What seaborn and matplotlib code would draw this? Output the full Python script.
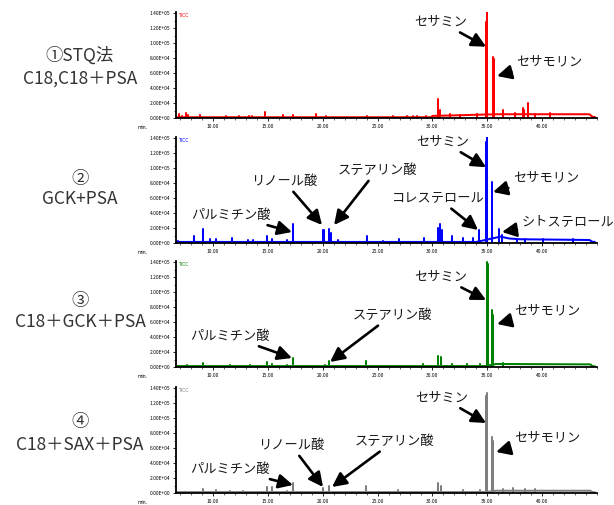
import numpy as np
import pandas as pd
import matplotlib
matplotlib.use("Agg")
import matplotlib.pyplot as plt
from matplotlib.ticker import MultipleLocator, FuncFormatter
import seaborn as sns

sns.set_style("white")
plt.rcParams["font.family"] = ["Noto Sans CJK JP", "DejaVu Sans"]

# ---- chromatogram data (retention time in min, TIC intensity) ----
# 1: STQ method, C18 / C18+PSA
red_base_t = [6.6, 29.9, 30.0, 32.0, 34.5, 36.0, 44.3, 44.6, 44.8]
red_base_v = [1.0e3, 1.0e3, 2.8e3, 3.5e3, 4.5e3, 5.0e3, 5.0e3, 1.5e3, 1.5e3]
red_peak_t = [6.86, 7.16, 7.52, 7.74, 8.83, 11.17, 12.39, 13.30, 13.60, 14.76,
              16.40, 17.25, 19.38, 20.30, 24.0, 26.4, 27.7, 28.2, 28.6, 29.4,
              30.54, 30.69, 31.60, 32.5, 34.03, 34.84, 34.95, 35.49, 35.60,
              36.46, 37.52, 38.22, 38.32, 38.68, 39.35, 40.72]
red_peak_v = [5.3e3, 3.0e3, 6.7e3, 3.5e3, 3.5e3, 2.5e3, 2.5e3, 2.5e3, 3.0e3, 8.4e3,
              3.5e3, 3.5e3, 5.3e3, 2.5e3, 3.0e3, 2.5e3, 2.5e3, 3.0e3, 3.0e3, 2.5e3,
              2.6e4, 1.07e4, 5.0e3, 4.5e3, 5.0e3, 1.28e5, 1.41e5, 8.2e4, 7.9e4,
              1.07e4, 6.2e3, 1.3e4, 1.07e4, 2.04e4, 6.0e3, 7.0e3]

# 2: GCK+PSA
blue_base_t = [6.6, 34.0, 36.2, 37.0, 38.0, 44.3, 44.6, 44.8]
blue_base_v = [1.4e3, 1.4e3, 8.5e3, 6.0e3, 5.0e3, 4.0e3, 1.5e3, 1.5e3]
blue_peak_t = [6.84, 8.30, 9.06, 9.72, 10.27, 11.70, 13.22, 13.62, 14.89, 15.35,
               16.72, 17.26, 20.00, 20.15, 20.54, 20.72, 21.42, 24.00, 25.52,
               26.92, 29.23, 30.54, 30.69, 30.84, 31.75, 32.81, 33.67, 34.27,
               34.88, 35.00, 35.46, 36.10, 36.31, 37.7, 38.4, 40.1, 42.8]
blue_peak_v = [2.3e3, 9.0e3, 1.9e4, 5.0e3, 5.4e3, 6.8e3, 4.0e3, 4.0e3, 9.0e3, 5.0e3,
               4.0e3, 2.5e4, 1.8e4, 1.7e4, 1.9e4, 1.4e4, 3.5e3, 1.0e4, 3.0e3,
               5.4e3, 6.8e3, 2.0e4, 2.5e4, 1.8e4, 9.0e3, 6.8e3, 6.8e3, 1.7e4,
               1.35e5, 1.41e5, 8.2e4, 1.9e4, 1.1e4, 6.0e3, 5.5e3, 5.0e3, 5.0e3]

# 3: C18+GCK+PSA
green_base_t = [6.6, 34.8, 35.8, 44.4, 44.6, 44.8]
green_base_v = [1.2e3, 1.2e3, 4.0e3, 3.5e3, 1.0e3, 1.0e3]
green_peak_t = [6.84, 7.60, 9.06, 11.55, 13.37, 14.89, 15.35, 16.72, 17.26, 20.21,
                20.54, 23.95, 29.17, 30.54, 30.75, 31.75, 33.12, 34.33, 34.94,
                35.03, 35.40, 35.55, 36.46]
green_peak_v = [2.0e3, 2.5e3, 5.5e3, 3.0e3, 3.0e3, 6.8e3, 4.0e3, 3.0e3, 1.23e4, 3.0e3,
                7.8e3, 7.8e3, 4.0e3, 1.46e4, 1.37e4, 4.5e3, 4.5e3, 4.5e3, 1.40e5,
                1.37e5, 7.6e4, 7.0e4, 6.0e3]

# 4: C18+SAX+PSA
gray_base_t = [6.6, 34.8, 35.8, 44.4, 44.6, 44.8]
gray_base_v = [1.2e3, 1.2e3, 3.0e3, 3.0e3, 1.0e3, 1.0e3]
gray_peak_t = [7.45, 9.06, 10.27, 11.55, 12.77, 14.89, 15.35, 16.72, 17.32, 20.00,
               20.54, 23.95, 26.90, 30.54, 30.75, 32.81, 34.33, 34.88, 34.94,
               35.46, 35.55, 36.46, 37.37, 38.43, 39.35]
gray_peak_v = [2.0e3, 5.7e3, 3.5e3, 3.0e3, 3.0e3, 7.9e3, 7.9e3, 3.0e3, 1.3e4, 6.6e3,
               8.8e3, 8.8e3, 3.5e3, 1.3e4, 8.8e3, 3.5e3, 3.5e3, 1.30e5, 1.33e5,
               7.5e4, 7.0e4, 5.0e3, 6.5e3, 5.0e3, 5.0e3]

panel_titles = ["①STQ法\nC18,C18＋PSA", "②\nGCK+PSA", "③\nC18＋GCK＋PSA", "④\nC18＋SAX＋PSA"]
panel_colors = ["#ff0000", "#0000ff", "#008000", "#7f7f7f"]

x_ticks = [10, 15, 20, 25, 30, 35, 40]
y_ticks = [0, 2e4, 4e4, 6e4, 8e4, 1.0e5, 1.2e5, 1.4e5]

# compound labels: (text, arrow tip time, arrow tip intensity, text time, text intensity)
notes = [
    [("セサミン", 34.89, 9.5e4, 30.78, 1.28e5),
     ("セサモリン", 35.89, 5.6e4, 40.63, 7.47e4)],
    [("パルミチン酸", 17.20, 1.47e4, 11.64, 3.73e4),
     ("リノール酸", 19.94, 2.4e4, 16.47, 8.27e4),
     ("ステアリン酸", 21.03, 2.4e4, 24.95, 9.73e4),
     ("コレステロール", 34.16, 1.73e4, 30.51, 6.0e4),
     ("セサミン", 34.89, 1.01e5, 30.97, 1.35e5),
     ("セサモリン", 35.52, 6.8e4, 40.36, 8.67e4),
     ("シトステロール", 36.34, 1.47e4, 42.36, 2.8e4)],
    [("セサミン", 34.89, 8.93e4, 30.78, 1.20e5),
     ("セサモリン", 35.89, 5.73e4, 40.45, 7.47e4),
     ("パルミチン酸", 17.20, 1.2e4, 11.55, 4.13e4),
     ("ステアリン酸", 20.67, 6.7e3, 26.32, 6.93e4)],
    [("セサミン", 34.89, 9.33e4, 30.87, 1.27e5),
     ("セサモリン", 35.80, 5.47e4, 40.45, 7.33e4),
     ("パルミチン酸", 17.29, 1.07e4, 11.55, 3.2e4),
     ("リノール酸", 20.03, 8.0e3, 17.11, 6.4e4),
     ("ステアリン酸", 20.85, 8.0e3, 26.50, 6.93e4)],
]

traces = [
    (red_base_t, red_base_v, red_peak_t, red_peak_v),
    (blue_base_t, blue_base_v, blue_peak_t, blue_peak_v),
    (green_base_t, green_base_v, green_peak_t, green_peak_v),
    (gray_base_t, gray_base_v, gray_peak_t, gray_peak_v),
]


def trace_frame(bt, bv, pt, pv):
    """Baseline as one segment, every peak as a vertical stick."""
    rows = [dict(t=t, v=v, seg=0) for t, v in zip(bt, bv)]
    for i, (t, v) in enumerate(zip(pt, pv), start=1):
        rows.append(dict(t=t, v=0.0, seg=i))
        rows.append(dict(t=t, v=v, seg=i))
    return pd.DataFrame(rows)


W, H = 614, 505
fig = plt.figure(figsize=(W / 100, H / 100), dpi=100)

ax_left = 175.7 / W
ax_width = (597 - 175.7) / W
ymax = 1.42e5
ax_h_px = 105 * ymax / 1.4e5
bottoms_px = [118, 243, 367, 493]
label_y_px = [(56, 79), (179, 199), (301, 322), (422, 445)]

sci = FuncFormatter(lambda v, p: f"{v:.2E}")
tfmt = FuncFormatter(lambda v, p: f"{v:.2f}")

for k in range(4):
    ax = fig.add_axes([ax_left, 1 - bottoms_px[k] / H, ax_width, ax_h_px / H])
    bt, bv, pt, pv = traces[k]
    df = trace_frame(bt, bv, pt, pv)
    sns.lineplot(data=df, x="t", y="v", units="seg", estimator=None, sort=False,
                 color=panel_colors[k], lw=1.45, ax=ax, legend=False)
    ax.set_xlim(6.6, 45.0)
    ax.set_ylim(0, ymax)
    ax.set_xlabel("")
    ax.set_ylabel("")
    for s in ("top", "right"):
        ax.spines[s].set_visible(False)
    for s in ("left", "bottom"):
        ax.spines[s].set_color("black")
        ax.spines[s].set_linewidth(1.3)
    ax.set_xticks(x_ticks)
    ax.xaxis.set_major_formatter(tfmt)
    ax.xaxis.set_minor_locator(MultipleLocator(1))
    ax.set_yticks(y_ticks)
    ax.yaxis.set_major_formatter(sci)
    ax.yaxis.set_minor_locator(MultipleLocator(1e4))
    ax.tick_params(axis="both", which="major", direction="out", length=2.5,
                   width=0.6, labelsize=3.5, pad=1.5, colors="black")
    ax.tick_params(axis="both", which="minor", direction="out", length=1.2,
                   width=0.5)
    ax.tick_params(axis="y", which="both", left=True)
    ax.tick_params(axis="x", which="both", bottom=True)
    ax.patch.set_alpha(0)

    ax.text(0.006, 0.985, "TICC", transform=ax.transAxes, fontsize=3.3,
            color=panel_colors[k], va="top", ha="left", family="DejaVu Sans")
    ax.text(-0.078, -0.085, "min.", transform=ax.transAxes, fontsize=3.3,
            color="black", va="center", ha="center", family="DejaVu Sans")

    for text, tx, ty, lx, ly in notes[k]:
        ax.annotate(text, xy=(tx, ty), xytext=(lx, ly), textcoords="data",
                    ha="center", va="center", fontsize=9.5, color="#1a1a1a",
                    annotation_clip=False,
                    arrowprops=dict(arrowstyle="-|>,head_length=0.9,head_width=0.45",
                                    color="black", lw=1.9, shrinkA=1, shrinkB=0))

    l1, l2 = panel_titles[k].split("\n")
    fig.text(80 / W, 1 - label_y_px[k][0] / H, l1, ha="center", va="center",
             fontsize=12.5, color="#333333")
    fig.text(80 / W, 1 - label_y_px[k][1] / H, l2, ha="center", va="center",
             fontsize=12.5, color="#333333")

# lower edge of the heading line above the figure
fig.text(365 / W, 1 + 2.5 / H, "(", ha="center", va="baseline", fontsize=15,
         fontweight="bold", color="black", family="DejaVu Sans")
fig.text(480 / W, 1 + 2.5 / H, ")", ha="center", va="baseline", fontsize=15,
         fontweight="bold", color="black", family="DejaVu Sans")

fig.savefig("out.png", dpi=100, facecolor="white")
